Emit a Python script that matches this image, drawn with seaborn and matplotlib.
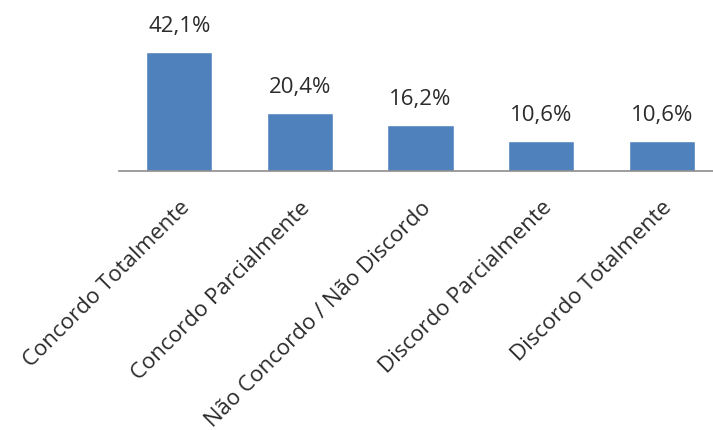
import matplotlib
matplotlib.use("Agg")
import matplotlib.pyplot as plt
import seaborn as sns
import pandas as pd

# Data
categorias = ["Concordo Totalmente", "Concordo Parcialmente",
              "Não Concordo / Não Discordo", "Discordo Parcialmente",
              "Discordo Totalmente"]
percentuais = [42.1, 20.4, 16.2, 10.6, 10.6]

df = pd.DataFrame({"Categoria": categorias, "Percentual": percentuais})

sns.set_style("white")
plt.rcParams['font.family'] = ['Open Sans', 'DejaVu Sans']

fig = plt.figure(figsize=(7.13, 4.30), dpi=100)
ax = fig.add_axes([119 / 713, 259 / 430, 603 / 713, 141.5 / 430])

sns.barplot(data=df, x="Categoria", y="Percentual", color="#4F81BD",
            saturation=1, width=0.55, ax=ax)

ax.set_xlim(-0.5, 4.5)
ax.set_ylim(0, 50)

# Value labels
labels = [f"{v:.1f}%".replace(".", ",") for v in percentuais]
ax.bar_label(ax.containers[0], labels=labels, padding=11,
             fontsize=16, color="#2b2b2b")

ax.set_xticks(range(len(categorias)))
ax.set_xticklabels(categorias, rotation=45, ha="right",
                   rotation_mode="anchor", fontsize=16, color="#2b2b2b")
ax.tick_params(axis="x", length=0, pad=19)
ax.set_yticks([])
ax.set_xlabel("")
ax.set_ylabel("")

for s in ["top", "right", "left"]:
    ax.spines[s].set_visible(False)
ax.spines["bottom"].set_color("#8c8c8c")
ax.spines["bottom"].set_linewidth(1.2)

fig.savefig("out.png", dpi=100)
